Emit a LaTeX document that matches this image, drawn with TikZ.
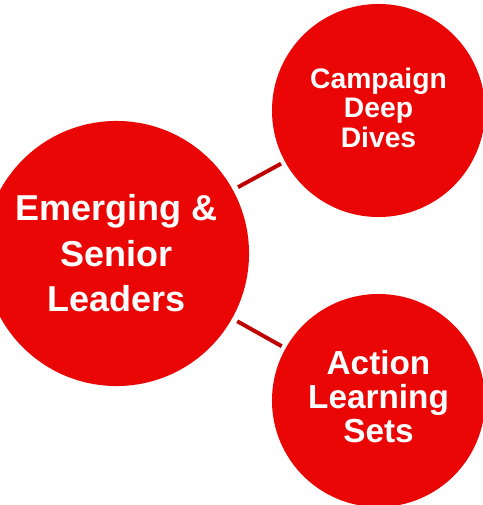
\documentclass[tikz,border=0pt]{standalone}
\usepackage{fontspec}
\setmainfont{Liberation Sans}
\definecolor{kreisrot}{RGB}{234,6,5}
\definecolor{linienrot}{RGB}{190,0,0}
\tikzset{
    kreis/.style={circle, fill=kreisrot, text=white, inner sep=0pt, align=center, font=\bfseries},
    verbindung/.style={draw=linienrot, line width=2.8pt, shorten <=4pt, shorten >=3pt}
}
\begin{document}
\begin{tikzpicture}[x=0.025cm, y=-0.025cm]
    \useasboundingbox (0, 0) rectangle (482, 505);
    \node[kreis, minimum size=6.625cm, font=\bfseries\fontsize{25.6pt}{32.3pt}\selectfont] (leaders) at (116.5, 253.5) {Emerging \&\\Senior\\Leaders};
    \node[kreis, minimum size=5.325cm, text depth=4.5pt, font=\bfseries\fontsize{20.1pt}{21pt}\selectfont] (campaign) at (378.5, 110.5) {Campaign\\Deep\\Dives};
    \node[kreis, minimum size=5.325cm, text depth=5.8pt, font=\bfseries\fontsize{23.7pt}{24pt}\selectfont] (action) at (378.5, 400.5) {Action\\Learning\\Sets};
    \draw[verbindung] (leaders) -- (campaign);
    \draw[verbindung] (leaders) -- (action);
\end{tikzpicture}
\end{document}
